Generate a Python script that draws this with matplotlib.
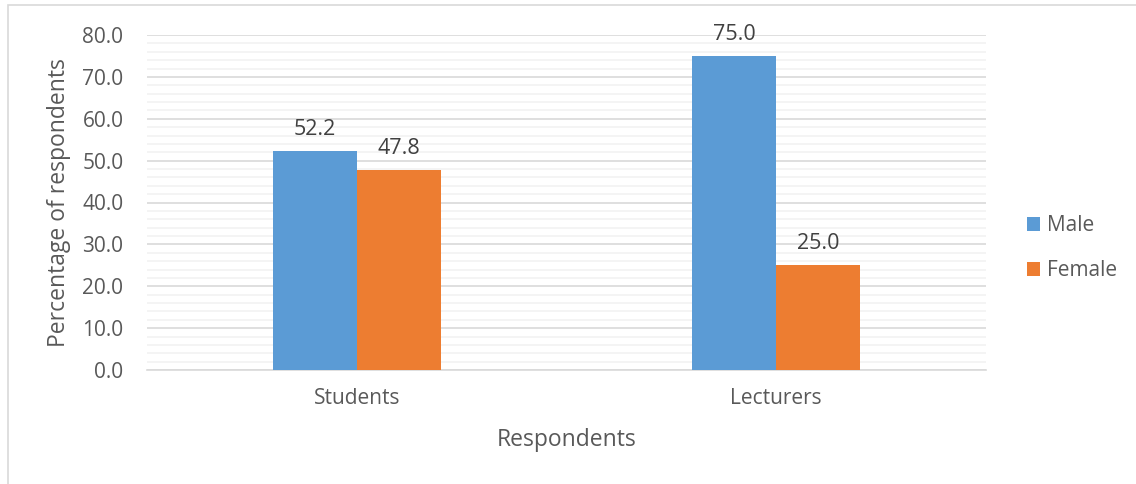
import numpy as np
import matplotlib.pyplot as plt
from matplotlib.patches import Rectangle
from matplotlib.ticker import MultipleLocator, FormatStrFormatter

categorias = ['Students', 'Lecturers']
masculino = [52.2, 75.0]
femenino = [47.8, 25.0]
series = ['Male', 'Female']

plt.rcParams['font.family'] = ['Open Sans', 'DejaVu Sans']
gris = '#595959'

fig = plt.figure(figsize=(11.36, 4.84), dpi=100)
# borde del area del grafico
fig.patches.append(Rectangle((8 / 1136, -0.1), 1.2, (479 / 484) + 0.1,
                             transform=fig.transFigure, fill=False,
                             edgecolor='#D9D9D9', linewidth=1.2))

ax = fig.add_axes([147 / 1136, 114 / 484, 839 / 1136, 335 / 484])
x = np.arange(len(categorias))
ancho = 0.2
b1 = ax.bar(x - ancho / 2, masculino, ancho, color='#5B9BD5', label=series[0], zorder=3)
b2 = ax.bar(x + ancho / 2, femenino, ancho, color='#ED7D31', label=series[1], zorder=3)

for barras in (b1, b2):
    for b in barras:
        ax.annotate(f"{b.get_height():.1f}", (b.get_x() + b.get_width() / 2, b.get_height()),
                    xytext=(0, 8), textcoords='offset points', ha='center', va='bottom',
                    fontsize=15.5, color='#404040')

ax.set_xlim(-0.5, 1.5)
ax.set_ylim(0, 80)
ax.yaxis.set_major_locator(MultipleLocator(10))
ax.yaxis.set_minor_locator(MultipleLocator(2))
ax.yaxis.set_major_formatter(FormatStrFormatter('%.1f'))
ax.grid(axis='y', which='major', color='#D9D9D9', linewidth=1.2, zorder=0)
ax.grid(axis='y', which='minor', color='#F2F2F2', linewidth=1.2, zorder=0)
ax.set_axisbelow(True)

for s in ['top', 'right', 'left']:
    ax.spines[s].set_visible(False)
ax.spines['bottom'].set_color('#D9D9D9')
ax.spines['bottom'].set_linewidth(1.2)

ax.set_xticks(x)
ax.set_xticklabels(categorias)
ax.tick_params(axis='both', which='both', length=0, labelsize=15, labelcolor=gris)
ax.tick_params(axis='x', pad=13)
ax.tick_params(axis='y', pad=17)

ax.set_ylabel('Percentage of respondents', fontsize=16.5, color=gris, labelpad=8)
ax.set_xlabel('Respondents', fontsize=16.5, color=gris, labelpad=14)

fig.legend(handles=[b1, b2], loc='center left', bbox_to_anchor=(1008 / 1136, 236 / 484),
           frameon=False, fontsize=15, labelcolor=gris, handlelength=0.65, handleheight=0.65,
           handletextpad=0.3, labelspacing=1.15)

plt.savefig('out.png', dpi=100)
